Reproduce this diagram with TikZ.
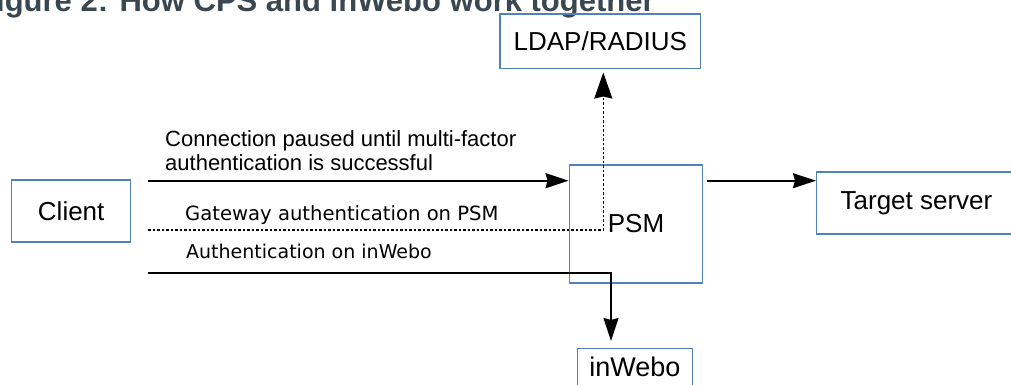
\documentclass[tikz,border=0pt]{standalone}
\usepackage{fontspec}
\usetikzlibrary{arrows.meta}
\newfontfamily\lsans{Liberation Sans}
\newfontfamily\dvsans{DejaVu Sans}
\definecolor{boxblue}{RGB}{79,129,189}
\definecolor{titlegray}{RGB}{58,70,80}
\begin{document}
\begin{tikzpicture}[
  x=1pt, y=-1pt,
  box/.style={draw=boxblue, line width=1.5pt, inner sep=0pt, font=\lsans\fontsize{26}{30}\selectfont},
  conn/.style={line width=1.6pt},
  dotline/.style={conn, dash pattern=on 2.5pt off 2pt},
  hd/.style={-{Stealth[inset=2pt, length=23pt, width=15pt]}},
  hdbig/.style={-{Stealth[inset=2pt, length=26pt, width=18pt]}},
  lbl/.style={inner sep=0pt, font=\lsans\fontsize{22}{23.3}\selectfont},
  sublbl/.style={inner sep=0pt, font=\dvsans\fontsize{19}{22}\selectfont}
]
  \useasboundingbox (0,0) rectangle (1011,385);
  \clip (0,0) rectangle (1011,385);

  % tiêu đề
  \node[anchor=base west, inner sep=0pt, text=titlegray,
    font=\lsans\bfseries\fontsize{31}{36}\selectfont] (title) at (-23,12)
    {Figure 2: How CPS and inWebo work together};

  % các hộp
  \node[box, minimum width=200.7pt, minimum height=54.3pt] (LDAP) at (600.3,41.2) {LDAP/RADIUS};
  \node[box, minimum width=119pt, minimum height=61.7pt] (Client) at (71.2,210.9) {Client};
  \node[box, minimum width=133.4pt, minimum height=117.7pt] (PSM) at (636,223.9) {PSM};
  \node[box, minimum width=199.6pt, minimum height=62.3pt] (Target) at (916.5,202.9) {Target server};
  \node[box, minimum width=115pt, minimum height=37.4pt,
    font=\lsans\fontsize{27}{30}\selectfont] (inWebo) at (634.8,367) {inWebo};

  % các đường nối
  \coordinate (cin) at (148,180.7);
  \coordinate (gin) at (148,230);
  \coordinate (ain) at (148,272.7);
  \draw[conn, hd] (cin) -- (cin -| PSM.west);
  \draw[dotline, hdbig, shorten >=3.4pt] (gin) -| ([xshift=3pt]LDAP.south);
  \draw[conn, hd, shorten >=6.6pt] (ain) -| ([xshift=-23.8pt]inWebo.north);
  \draw[conn, hd] ([xshift=4pt]PSM.east |- cin) -- (cin -| Target.west);

  % nhãn
  \node[lbl, anchor=base west, align=left] (lconn) at (165,170)
    {Connection paused until multi-factor\\authentication is successful};
  \node[sublbl, anchor=base west, font=\dvsans\fontsize{19.6}{22}\selectfont] (lgw) at (185,220) {Gateway authentication on PSM};
  \node[sublbl, anchor=base west] (lauth) at (186,258) {Authentication on inWebo};
\end{tikzpicture}
\end{document}
